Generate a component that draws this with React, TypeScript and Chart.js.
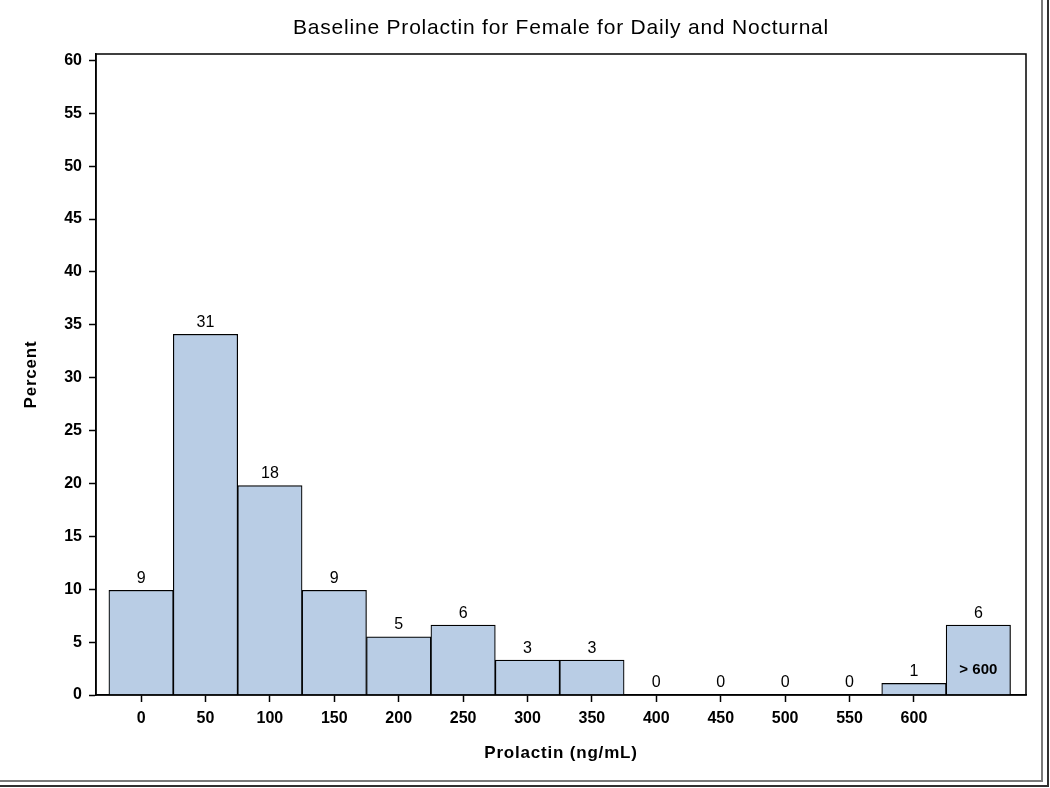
import React, { useEffect, useRef } from "react";
import { Chart, registerables } from "chart.js";

Chart.register(...registerables);

const binCenters = [0, 50, 100, 150, 200, 250, 300, 350, 400, 450, 500, 550, 600, 650];
const counts = [9, 31, 18, 9, 5, 6, 3, 3, 0, 0, 0, 0, 1, 6];
const percents = [9.9, 34.1, 19.8, 9.9, 5.5, 6.6, 3.3, 3.3, 0, 0, 0, 0, 1.1, 6.6];
const xTickValues = [0, 50, 100, 150, 200, 250, 300, 350, 400, 450, 500, 550, 600];
const yTickValues = [0, 5, 10, 15, 20, 25, 30, 35, 40, 45, 50, 55, 60];
const overflowLabel = "> 600";
const overflowLabelY = 2.4;
const titleText = "Baseline Prolactin for Female for Daily and Nocturnal";
const xTitle = "Prolactin (ng/mL)";
const yTitle = "Percent";

const FONT = "'Liberation Sans', Arial, sans-serif";
const BAR_FILL = "rgb(185,205,229)";

const decorPlugin = {
  id: "decor",
  afterDatasetsDraw(chart: any) {
    const { ctx, chartArea, scales } = chart;
    const xs = scales.x;
    const ys = scales.y;
    ctx.save();
    // plot frame
    ctx.strokeStyle = "#000";
    ctx.lineWidth = 1.5;
    ctx.strokeRect(chartArea.left, chartArea.top, chartArea.right - chartArea.left, chartArea.bottom - chartArea.top);

    // count labels
    ctx.fillStyle = "#000";
    ctx.font = `16px ${FONT}`;
    ctx.textAlign = "center";
    ctx.textBaseline = "bottom";
    binCenters.forEach((c, i) => {
      const px = xs.getPixelForValue(c);
      const py = ys.getPixelForValue(percents[i]);
      ctx.fillText(String(counts[i]), px, py - 4);
    });

    // overflow label
    ctx.font = `bold 15px ${FONT}`;
    ctx.textBaseline = "middle";
    ctx.fillText(overflowLabel, xs.getPixelForValue(binCenters[binCenters.length - 1]), ys.getPixelForValue(overflowLabelY));

    // main title
    ctx.font = `21px ${FONT}`;
    (ctx as any).letterSpacing = "0.8px";
    ctx.textBaseline = "middle";
    ctx.fillText(titleText, (chartArea.left + chartArea.right) / 2, 28);

    // x title
    ctx.font = `bold 17px ${FONT}`;
    ctx.fillText(xTitle, (chartArea.left + chartArea.right) / 2, 753);

    // y title
    ctx.save();
    ctx.translate(31, (chartArea.top + chartArea.bottom) / 2);
    ctx.rotate(-Math.PI / 2);
    ctx.fillText(yTitle, 0, 0);
    ctx.restore();
    (ctx as any).letterSpacing = "0px";

    // outer window frame (right and bottom double lines)
    const W = chart.width;
    const H = chart.height;
    ctx.lineWidth = 2;
    ctx.strokeStyle = "#7a7a7a";
    ctx.beginPath();
    ctx.moveTo(1042, 0);
    ctx.lineTo(1042, 781);
    ctx.lineTo(0, 781);
    ctx.stroke();
    ctx.strokeStyle = "#303030";
    ctx.beginPath();
    ctx.moveTo(W - 2, 0);
    ctx.lineTo(W - 2, H - 2);
    ctx.lineTo(0, H - 2);
    ctx.stroke();
    ctx.restore();
  },
};

export default function App() {
  const canvasRef = useRef<HTMLCanvasElement | null>(null);

  useEffect(() => {
    document.body.style.margin = "0";
    const canvas = canvasRef.current;
    if (!canvas) return;
    const chart = new Chart(canvas, {
      type: "bar",
      data: {
        datasets: [
          {
            data: binCenters.map((c, i) => ({ x: c, y: percents[i] })),
            backgroundColor: BAR_FILL,
            borderColor: "#000",
            borderWidth: 1.2,
            barPercentage: 1,
            categoryPercentage: 1,
          },
        ],
      },
      options: {
        animation: false,
        responsive: false,
        devicePixelRatio: 1,
        layout: { padding: { top: 54, right: 24, left: 0, bottom: 0 } },
        plugins: {
          legend: { display: false },
          title: { display: false },
          tooltip: { enabled: false },
        },
        scales: {
          x: {
            type: "linear",
            min: -35,
            max: 687,
            offset: false,
            afterBuildTicks: (scale: any) => {
              scale.ticks = xTickValues.map((v) => ({ value: v }));
            },
            afterFit: (scale: any) => {
              scale.height = 93;
            },
            grid: {
              offset: false,
              drawOnChartArea: false,
              drawTicks: true,
              tickLength: 7,
              tickColor: "#000",
              tickWidth: 1.5,
            },
            border: { display: true, color: "#000", width: 1.5 },
            ticks: {
              color: "#000",
              padding: 7,
              maxRotation: 0,
              autoSkip: false,
              font: { family: FONT, size: 16, weight: "bold" },
              callback: (v: any) => String(v),
            },
          },
          y: {
            type: "linear",
            min: 0,
            max: 60.6,
            afterBuildTicks: (scale: any) => {
              scale.ticks = yTickValues.map((v) => ({ value: v }));
            },
            afterFit: (scale: any) => {
              scale.width = 96;
            },
            grid: {
              drawOnChartArea: false,
              drawTicks: true,
              tickLength: 7,
              tickColor: "#000",
              tickWidth: 1.5,
            },
            border: { display: true, color: "#000", width: 1.5 },
            ticks: {
              color: "#000",
              padding: 7,
              autoSkip: false,
              font: { family: FONT, size: 16, weight: "bold" },
              callback: (v: any) => String(v),
            },
          },
        },
      },
      plugins: [decorPlugin],
    });
    return () => chart.destroy();
  }, []);

  return (
    <div style={{ width: 1050, height: 788 }}>
      <canvas ref={canvasRef} width={1050} height={788} style={{ display: "block" }} />
    </div>
  );
}
